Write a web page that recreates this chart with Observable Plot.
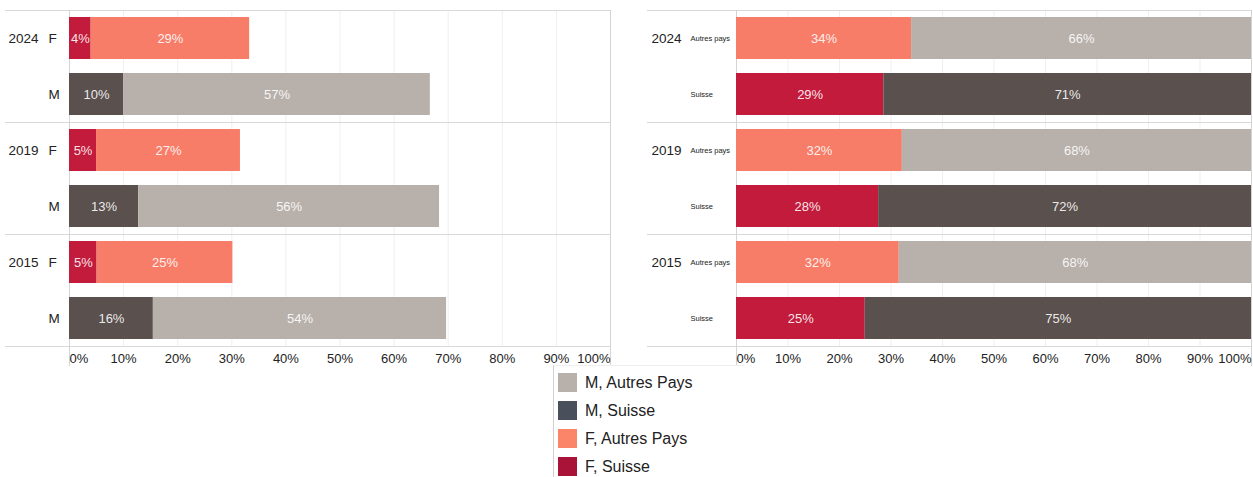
<!DOCTYPE html>
<html><head><meta charset="utf-8">
<script src="https://cdn.jsdelivr.net/npm/d3@7"></script>
<script src="https://cdn.jsdelivr.net/npm/@observablehq/plot@0.6"></script>
<style>
body{margin:0;background:#fff;font-family:"Liberation Sans",Arial,sans-serif;}
#wrap{position:relative;width:1253px;height:477px;overflow:hidden;}
#left{position:absolute;left:0;top:0;}
#right{position:absolute;left:640px;top:0;}
#legend{position:absolute;left:553px;top:365px;width:190px;height:112px;border-left:1px solid #d0d0d0;border-top:1px solid #eeeeee;}
.item{position:absolute;left:4px;height:19px;display:flex;align-items:center;font-size:16px;color:#222;}
.sw{width:19px;height:19px;margin-right:8px;}
</style></head>
<body><div id="wrap"><div id="left"></div><div id="right"></div><div id="legend"></div></div>
<script>
const years = ["2024", "2019", "2015"];
const sexes = ["F", "M"];
const origins = ["Autres pays", "Suisse"];
const categories = ["M, Autres Pays", "M, Suisse", "F, Autres Pays", "F, Suisse"];
const barColors = ["#b8b0ab", "#5a504d", "#f77d68", "#c21b3c"];
const legendColors = ["#b8b0ab", "#4a4f5c", "#fa8568", "#aa1338"];
const xTicks = [0, 10, 20, 30, 40, 50, 60, 70, 80, 90, 100];

// Left panel: share of all, by sex and origin (per year)
const leftFSuisse = [4.0, 5.0, 5.1];
const leftFAutres = [29.3, 26.6, 25.1];
const leftMSuisse = [10.0, 12.8, 15.5];
const leftMAutres = [56.7, 55.6, 54.2];

// Right panel: share of sex within origin (per year)
const rightAutresF = [34.0, 32.2, 31.6];
const rightAutresM = [66.0, 67.8, 68.4];
const rightSuisseF = [28.6, 27.6, 25.0];
const rightSuisseM = [71.4, 72.4, 75.0];

const fmt = v => Math.round(v) + "%";

const leftData = [];
years.forEach((y, i) => {
  leftData.push({key: y + " F", year: y, sub: "F", category: "F, Suisse", value: leftFSuisse[i]});
  leftData.push({key: y + " F", year: y, sub: "F", category: "F, Autres Pays", value: leftFAutres[i]});
  leftData.push({key: y + " M", year: y, sub: "M", category: "M, Suisse", value: leftMSuisse[i]});
  leftData.push({key: y + " M", year: y, sub: "M", category: "M, Autres Pays", value: leftMAutres[i]});
});
const leftKeys = years.flatMap(y => sexes.map(s => y + " " + s));
const leftRows = years.flatMap(y => sexes.map(s => ({key: y + " " + s, year: y, sub: s})));

const rightData = [];
years.forEach((y, i) => {
  rightData.push({key: y + " Autres pays", category: "F, Autres Pays", value: rightAutresF[i]});
  rightData.push({key: y + " Autres pays", category: "M, Autres Pays", value: rightAutresM[i]});
  rightData.push({key: y + " Suisse", category: "F, Suisse", value: rightSuisseF[i]});
  rightData.push({key: y + " Suisse", category: "M, Suisse", value: rightSuisseM[i]});
});
const rightKeys = years.flatMap(y => origins.map(o => y + " " + o));
const rightRows = years.flatMap(y => origins.map(o => ({key: y + " " + o, year: y, sub: o})));

function panel({data, keys, rows, sub, width, marginLeft, marginRight, yearDx, subDx, subSize, sepInset}) {
  const firstRows = rows.filter(r => r.sub === sub[0]);
  const lastRow = rows[rows.length - 1];
  const axisOpts = {tickSize: 0, tickPadding: 7, tickFormat: d => d + "%", fontSize: 13, fill: "#222", label: null};
  return Plot.plot({
    width, height: 380,
    marginTop: 10, marginBottom: 34, marginLeft, marginRight,
    style: {fontFamily: "Liberation Sans, Arial, sans-serif", background: "transparent", color: "#222"},
    x: {domain: [0, 100], label: null},
    y: {domain: keys, paddingInner: 0.25, paddingOuter: 0.125, axis: null},
    color: {domain: categories, range: barColors},
    marks: [
      Plot.gridX(xTicks.slice(1, -1), {stroke: "#efefef", strokeOpacity: 1}),
      Plot.ruleY(firstRows, {y: "key", dy: -28, stroke: "#d9d9d9", insetLeft: sepInset}),
      Plot.ruleY([lastRow], {y: "key", dy: 28, stroke: "#d9d9d9", insetLeft: sepInset}),
      Plot.ruleX([0, 100], {stroke: "#d4d4d4", insetBottom: -20}),
      Plot.barX(data, Plot.stackX({x: "value", y: "key", fill: "category", order: null})),
      Plot.text(data, Plot.stackX({x: "value", y: "key", order: null, text: d => fmt(d.value), fill: "white", fillOpacity: 0.9, fontSize: 13})),
      Plot.axisX([0], {...axisOpts, textAnchor: "start"}),
      Plot.axisX(xTicks.slice(1, -1), {...axisOpts}),
      Plot.axisX([100], {...axisOpts, textAnchor: "end"}),
      Plot.text(firstRows, {y: "key", text: "year", frameAnchor: "left", textAnchor: "start", dx: yearDx, fontSize: 13.5, fill: "#222"}),
      Plot.text(rows, {y: "key", text: "sub", frameAnchor: "left", textAnchor: "start", dx: subDx, fontSize: subSize, fill: "#222"})
    ]
  });
}

document.getElementById("left").append(panel({
  data: leftData, keys: leftKeys, rows: leftRows, sub: sexes,
  width: 615, marginLeft: 69, marginRight: 5,
  yearDx: -61, subDx: -21, subSize: 13.5, sepInset: -64
}));
document.getElementById("right").append(panel({
  data: rightData, keys: rightKeys, rows: rightRows, sub: origins,
  width: 613, marginLeft: 96, marginRight: 2,
  yearDx: -85, subDx: -46, subSize: 7.5, sepInset: -89
}));

const legend = document.getElementById("legend");
categories.forEach((c, i) => {
  const item = document.createElement("div");
  item.className = "item";
  item.style.top = (7 + i * 28) + "px";
  const sw = document.createElement("div");
  sw.className = "sw";
  sw.style.background = legendColors[i];
  const label = document.createElement("span");
  label.textContent = c;
  item.append(sw, label);
  legend.append(item);
});
</script>
</body></html>
